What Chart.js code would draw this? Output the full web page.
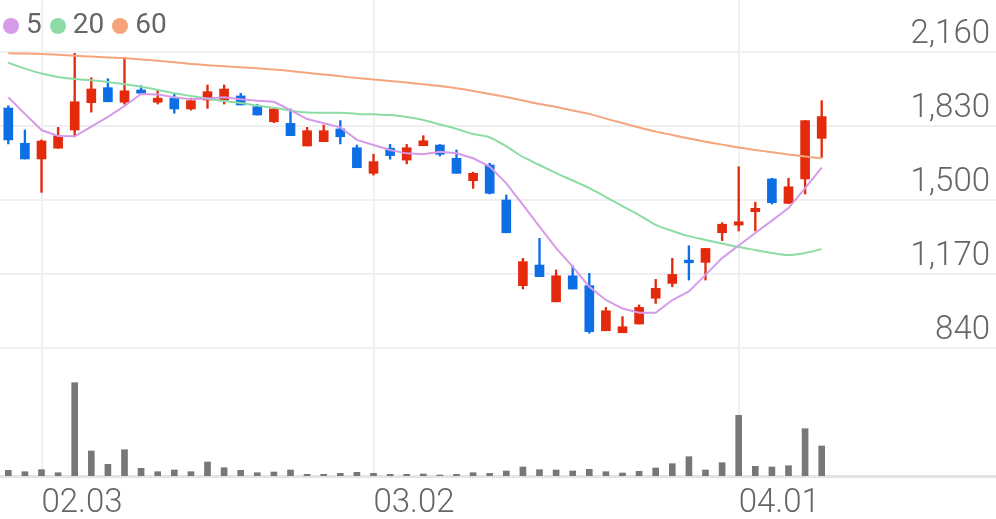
<!DOCTYPE html>
<html><head><meta charset="utf-8">
<script src="https://cdn.jsdelivr.net/npm/chart.js@4"></script>
<style>
html,body{margin:0;padding:0;background:#fff;}
#wrap{position:relative;width:996px;height:519px;overflow:hidden;}
#legend{position:absolute;left:3px;top:8px;font-family:Roboto,sans-serif;font-size:28px;line-height:32px;color:#666;display:flex;align-items:center;}
.item{display:flex;align-items:center;margin-right:8px;}
.dot{display:inline-block;width:16px;height:16px;border-radius:50%;margin-right:7px;position:relative;top:2px;}
</style></head>
<body><div id="wrap"><canvas id="c" width="996" height="519"></canvas><div id="legend"></div></div>
<script>
// trading days (2020)
const labels = ['01.30','01.31','02.03','02.04','02.05','02.06','02.07','02.10','02.11','02.12','02.13','02.14','02.17','02.18','02.19','02.20','02.21','02.24','02.25','02.26','02.27','02.28','03.02','03.03','03.04','03.05','03.06','03.09','03.10','03.11','03.12','03.13','03.16','03.17','03.18','03.19','03.20','03.23','03.24','03.25','03.26','03.27','03.30','03.31','04.01','04.02','04.03','04.06','04.07','04.08'];
const futureSlots = 10;
const openP  = [1910,1753,1683,1731,1812,1934,2001,1936,1991,1936,1954,1906,1946,1946,1964,1916,1849,1842,1741,1760,1817,1733,1619,1731,1678,1742,1745,1686,1586,1656,1500,1118,1210,1046,1162,1118,917,908,947,1062,1128,1232,1222,1354,1388,1448,1594,1485,1594,1775];
const closeP = [1768,1683,1763,1787,1938,1995,1938,1987,1976,1954,1906,1943,1983,1995,1924,1879,1906,1787,1809,1809,1782,1644,1671,1698,1733,1764,1704,1619,1619,1530,1354,1225,1158,1162,1103,913,1006,935,1021,1106,1168,1220,1284,1392,1403,1463,1488,1559,1854,1872];
const highP  = [1920,1812,1768,1824,2154,2045,2041,2136,2010,1991,1973,1954,2013,2013,1976,1927,1913,1906,1824,1834,1854,1745,1704,1748,1748,1787,1748,1723,1624,1664,1522,1240,1329,1188,1207,1173,1021,980,1032,1146,1240,1296,1284,1399,1648,1490,1597,1597,1854,1943];
const lowP   = [1750,1683,1534,1731,1782,1892,1938,1927,1976,1928,1887,1901,1909,1928,1924,1879,1845,1787,1741,1760,1750,1644,1611,1682,1661,1742,1696,1619,1552,1527,1354,1103,1158,1046,1103,906,917,908,947,1039,1113,1143,1143,1319,1362,1362,1482,1485,1527,1690];
const volume = [57,43,63,33,933,250,117,263,77,43,60,43,140,83,57,33,40,60,17,17,27,37,27,17,17,20,10,17,33,27,50,90,63,60,50,67,43,30,47,80,123,193,60,133,607,97,90,103,473,300];
const ma5  = [1958,1884,1812,1785,1784,1827,1871,1919,1973,1971,1958,1949,1953,1958,1949,1943,1938,1901,1861,1842,1824,1768,1745,1723,1708,1704,1715,1708,1686,1649,1574,1478,1381,1285,1203,1113,1054,1016,997,997,1054,1092,1166,1241,1297,1353,1408,1464,1553,1644];
const ma20 = [2112,2086,2064,2049,2040,2034,2026,2016,2005,1991,1976,1964,1952,1941,1933,1921,1911,1899,1890,1889,1889,1884,1882,1879,1870,1857,1837,1817,1794,1779,1739,1692,1656,1620,1587,1553,1513,1473,1433,1389,1362,1339,1322,1306,1290,1277,1264,1255,1264,1281];
const ma60 = [2154,2153,2151,2148,2143,2140,2136,2132,2127,2121,2114,2107,2101,2096,2092,2087,2082,2075,2067,2060,2052,2044,2037,2031,2024,2016,2008,1998,1986,1973,1959,1944,1928,1915,1899,1884,1863,1843,1823,1805,1790,1774,1760,1747,1734,1723,1713,1703,1694,1686];
const priceTicks = [840,1170,1500,1830,2160];
const dateTicks = ['02.03','03.02','04.01'];
const maNames = ['5','20','60'];
const maColors = ['#d59be9','#8edca5','#f6a47c'];

const allLabels = labels.concat(Array(futureSlots).fill(''));
const RED = '#e42a0c', BLUE = '#0c6fe6';
const candleColor = c => (closeP[c.dataIndex] >= openP[c.dataIndex] ? RED : BLUE);
const FONT = {family:'Roboto', size:33, weight:300};

// HTML legend
const lg = document.getElementById('legend');
maNames.forEach((n,i)=>{
  const it = document.createElement('span'); it.className='item';
  const d = document.createElement('span'); d.className='dot'; d.style.background = maColors[i];
  it.appendChild(d); it.appendChild(document.createTextNode(n)); lg.appendChild(it);
});

const maSets = [ma5, ma20, ma60].map((arr,i)=>({
  type:'line', label:maNames[i], data:arr, borderColor:maColors[i], borderWidth:2,
  pointRadius:0, tension: i===0 ? 0 : 0.3, order:0, yAxisID:'y'
}));

new Chart(document.getElementById('c'), {
  type:'bar',
  data:{
    labels: allLabels,
    datasets:[
      ...maSets,
      {type:'bar', label:'body', data: openP.map((o,i)=>[o, closeP[i]]), backgroundColor:candleColor, barThickness:9, grouped:false, order:1, yAxisID:'y'},
      {type:'bar', label:'wick', data: lowP.map((l,i)=>[l, highP[i]]), backgroundColor:candleColor, barThickness:1.7, grouped:false, order:2, yAxisID:'y'},
      {type:'bar', label:'vol', data: volume, backgroundColor:'#777777', barThickness:6, grouped:false, order:3, yAxisID:'yv'}
    ]
  },
  options:{
    responsive:false, animation:false, devicePixelRatio:1,
    layout:{padding:0},
    plugins:{legend:{display:false}, tooltip:{enabled:false}},
    scales:{
      x:{
        offset:true,
        grid:{offset:false, color:'#f0f0f0', lineWidth:2, drawTicks:false},
        border:{display:true, color:'#e4e4e4', width:3},
        ticks:{align:'start', font:FONT, color:'#666', padding:8, maxRotation:0, autoSkip:false},
        afterBuildTicks: s => { s.ticks = s.ticks.filter(t => dateTicks.includes(allLabels[t.value])); },
        afterFit: s => { s.height = 43; s.paddingLeft = 0; s.paddingRight = 0; }
      },
      y:{
        position:'right', min:269.2, max:2391.9,
        grid:{color:'#efefef', lineWidth:2, drawTicks:false},
        border:{display:false},
        ticks:{mirror:true, padding:-6, labelOffset:-17, font:FONT, color:'#666', callback: v => Number(v).toLocaleString('en-US')},
        afterBuildTicks: s => { s.ticks = priceTicks.map(v=>({value:v})); },
        afterFit: s => { s.width = 0; s.paddingTop = 0; s.paddingBottom = 0; }
      },
      yv:{display:false, min:0, max:4760, position:'left'}
    }
  }
});
</script>
</body></html>
